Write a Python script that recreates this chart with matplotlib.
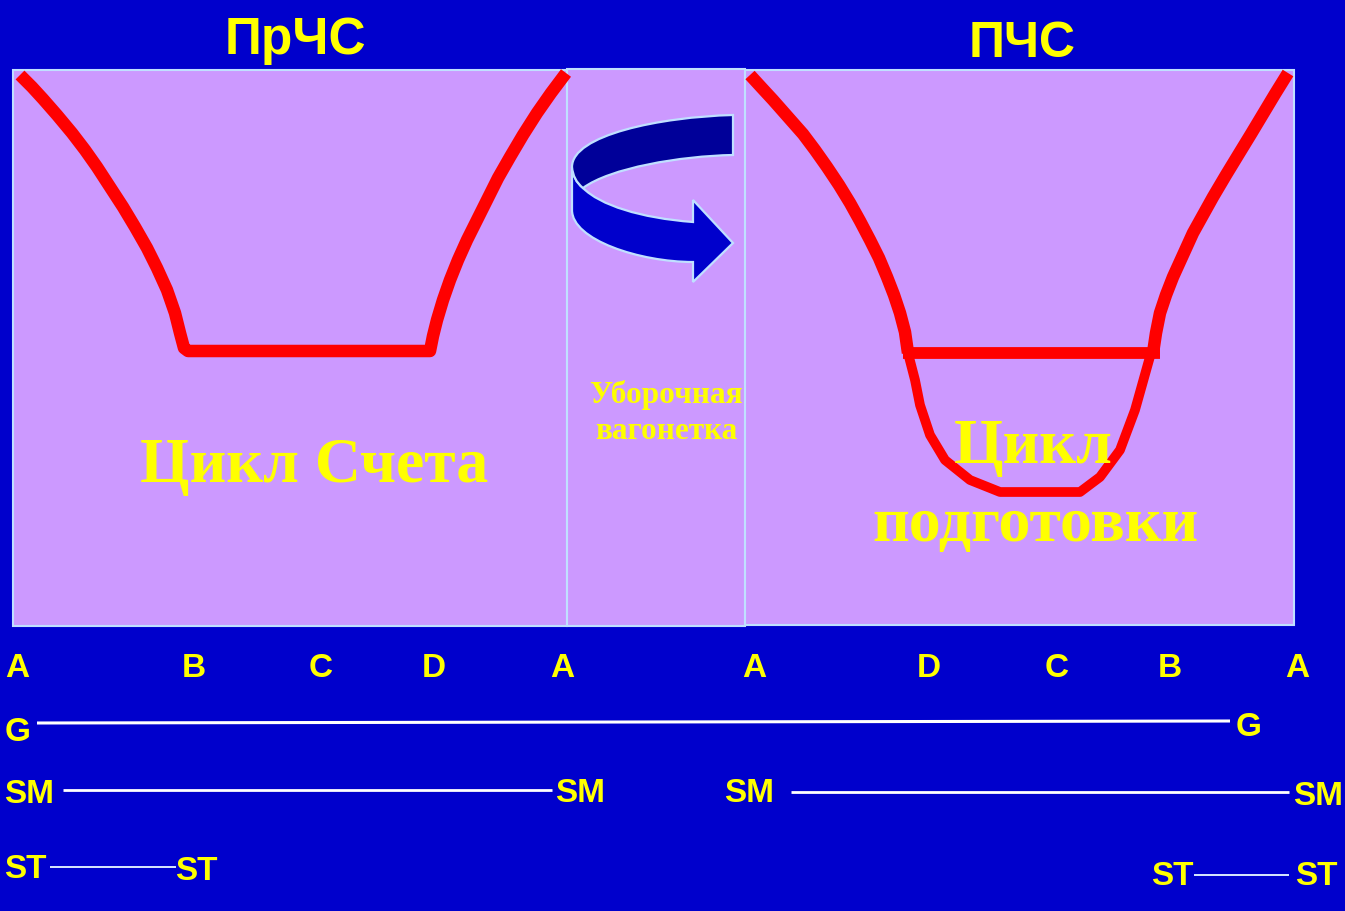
import matplotlib
matplotlib.use("Agg")
import matplotlib.pyplot as plt
from matplotlib.patches import Rectangle, PathPatch
from matplotlib.path import Path

# ---------------- data ----------------
BG = "#0000CC"
PANEL = "#CC99FF"
EDGE = "#C0E0FF"
RED = "#FF0000"
YEL = "#FFFF00"

# panels: (x0, y0, x1, y1) in pixel space
panel_left = (13, 70, 567, 626)
panel_mid = (567, 69, 745, 626)
panel_right = (745, 70, 1294, 625)

# left curve (counting cycle)
left_x = [20, 32, 43, 57, 72, 85, 97, 110, 123, 135, 147, 157, 167, 175, 180, 184, 188,
          430, 433, 437, 443, 450, 458, 467, 477, 487, 498, 510, 523, 537, 551, 566]
left_y = [75, 87, 99, 115, 133, 150, 167, 187, 207, 227, 248, 268, 290, 313, 333, 348, 351,
          351, 336, 320, 300, 280, 260, 240, 220, 200, 178, 157, 135, 113, 93, 73]

# right curve (preparation cycle)
right_x = [750, 761, 773, 788, 803, 815, 827, 839, 850, 860, 870, 879, 887, 894, 900, 905, 908]
right_y = [75, 87, 100, 117, 134, 150, 167, 185, 203, 221, 240, 258, 277, 295, 313, 332, 353]
right2_x = [1153, 1156, 1160, 1166, 1173, 1183, 1193, 1203, 1213, 1226, 1240, 1251, 1263, 1275, 1288]
right2_y = [353, 333, 313, 295, 277, 255, 233, 215, 197, 175, 152, 134, 114, 94, 73]
flat_x = [903, 1160]
flat_y = [353, 353]
bowl_x = [908, 915, 920, 930, 945, 970, 1000, 1080, 1100, 1120, 1135, 1151]
bowl_y = [353, 380, 405, 435, 460, 480, 492, 492, 477, 450, 410, 353]

# arrow shapes
arrow_top = [(733, 115), (660, 117), (572, 135), (572, 167), (573, 180), (583, 188),
             (610, 168), (680, 156), (733, 155), (733, 115)]
arrow_top_codes = [Path.MOVETO, Path.CURVE4, Path.CURVE4, Path.CURVE4, Path.CURVE3, Path.CURVE3,
                   Path.CURVE4, Path.CURVE4, Path.CURVE4, Path.CLOSEPOLY]
arrow_bot = [(572, 167), (572, 210), (572, 240), (640, 262), (693, 262), (693, 282), (733, 243),
             (693, 200), (693, 222), (640, 218), (600, 205), (583, 188), (573, 180), (572, 167),
             (572, 167)]
arrow_bot_codes = [Path.MOVETO, Path.LINETO, Path.CURVE4, Path.CURVE4, Path.CURVE4, Path.LINETO,
                   Path.LINETO, Path.LINETO, Path.LINETO, Path.CURVE4, Path.CURVE4, Path.CURVE4,
                   Path.CURVE3, Path.CURVE3, Path.CLOSEPOLY]

# axis letters
top_labels = ["A", "B", "C", "D", "A", "A", "D", "C", "B", "A"]
top_label_x = [17, 194, 321, 434, 562, 754, 929, 1057, 1170, 1297]
top_label_base = 677

# scale rows: (label, x, baseline)
row_labels = [("G", 18, 741), ("G", 1249, 736),
              ("SM", 29, 803), ("SM", 580, 802), ("SM", 749, 802), ("SM", 1318, 805),
              ("ST", 25, 878), ("ST", 196, 880), ("ST", 1172, 885), ("ST", 1316, 885)]
# scale lines: x0, y0, x1, y1, width, color
scale_lines = [(37, 723, 1230, 721, 2.2, "white"),
               (63, 790, 552, 790, 2.0, "white"),
               (791, 792, 1289, 792, 2.0, "white"),
               (50, 867, 176, 867, 1.4, "#D8E8FF"),
               (1194, 875, 1289, 875, 1.4, "#D8E8FF")]

# ---------------- figure ----------------
fig = plt.figure(figsize=(13.45, 9.11), dpi=100)
fig.patch.set_facecolor(BG)
ax = fig.add_axes([0, 0, 1, 1])
ax.set_xlim(0, 1345)
ax.set_ylim(911, 0)
ax.axis("off")
ax.set_facecolor(BG)

for (x0, y0, x1, y1) in (panel_left, panel_mid, panel_right):
    ax.add_patch(Rectangle((x0, y0), x1 - x0, y1 - y0, facecolor=PANEL,
                           edgecolor=EDGE, lw=1.5, zorder=1))

lkw = dict(color=RED, solid_joinstyle="round", solid_capstyle="butt", zorder=3)
ax.plot(left_x, left_y, lw=9, **lkw)
ax.plot(right_x, right_y, lw=9, **lkw)
ax.plot(right2_x, right2_y, lw=9, **lkw)
ax.plot(flat_x, flat_y, lw=8.5, **lkw)
ax.plot(bowl_x, bowl_y, lw=7, **lkw)

ax.add_patch(PathPatch(Path(arrow_bot, arrow_bot_codes), facecolor="#0000CC",
                       edgecolor=EDGE, lw=1.6, zorder=4))
ax.add_patch(PathPatch(Path(arrow_top, arrow_top_codes), facecolor="#000099",
                       edgecolor=EDGE, lw=1.6, zorder=4))

sans = ["Liberation Sans", "DejaVu Sans"]
serif = ["Liberation Serif", "DejaVu Serif"]

ax.text(295, 54, "ПрЧС", color=YEL, fontsize=37, fontweight="bold", family=sans,
        ha="center", va="baseline", zorder=5)
ax.text(1022, 57, "ПЧС", color=YEL, fontsize=36, fontweight="bold", family=sans,
        ha="center", va="baseline", zorder=5)

ax.text(314, 482, "Цикл Счета", color=YEL, fontsize=46, fontweight="bold", family=serif,
        ha="center", va="baseline", zorder=5)
ax.text(1033, 463, "Цикл", color=YEL, fontsize=46, fontweight="bold", family=serif,
        ha="center", va="baseline", zorder=5)
ax.text(1035, 541, "подготовки", color=YEL, fontsize=46, fontweight="bold", family=serif,
        ha="center", va="baseline", zorder=5)
ax.text(666, 403, "Уборочная", color=YEL, fontsize=22.5, fontweight="bold", family=serif,
        ha="center", va="baseline", zorder=5)
ax.text(666, 439, "вагонетка", color=YEL, fontsize=22.5, fontweight="bold", family=serif,
        ha="center", va="baseline", zorder=5)

for lab, x in zip(top_labels, top_label_x):
    ax.text(x, top_label_base, lab, color=YEL, fontsize=24, fontweight="bold", family=sans,
            ha="center", va="baseline", zorder=5)

for lab, x, yb in row_labels:
    ax.text(x, yb, lab, color=YEL, fontsize=24, fontweight="bold", family=sans,
            ha="center", va="baseline", zorder=5)

for x0, y0, x1, y1, w, c in scale_lines:
    ax.plot([x0, x1], [y0, y1], color=c, lw=w, solid_capstyle="butt", zorder=3)

fig.savefig("out.png", dpi=100, facecolor=BG)
